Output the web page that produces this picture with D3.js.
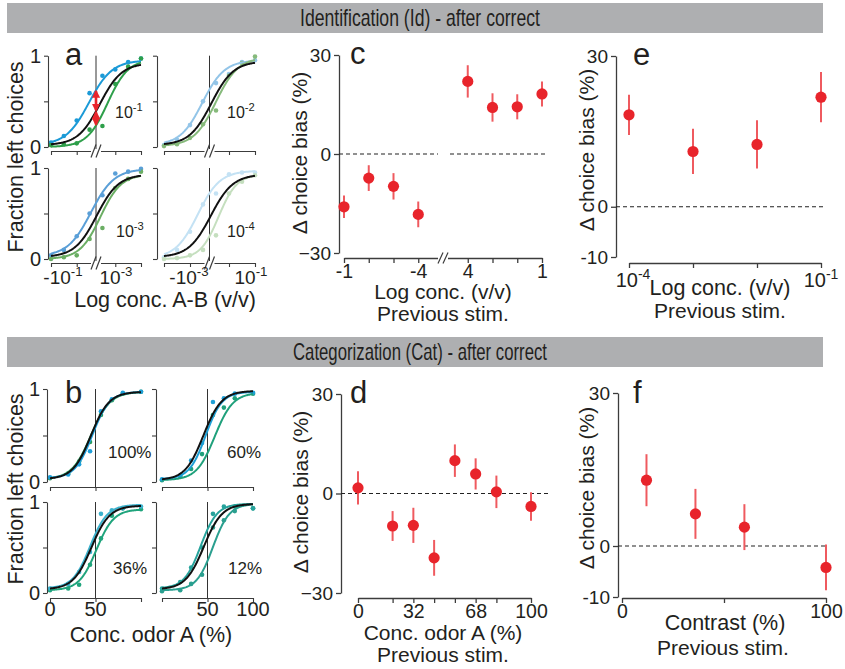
<!DOCTYPE html>
<html><head><meta charset="utf-8">
<script src="https://cdn.jsdelivr.net/npm/d3@7/dist/d3.min.js"></script>
<style>
body{margin:0;background:#fff;}
svg text{font-family:"Liberation Sans",Arial,Helvetica,sans-serif;fill:#231f20;}
</style></head><body>
<svg id="fig" width="845" height="669"></svg>
<script>
// ================= DATA =================
const bannerTitles = ["Identification (Id) - after correct", "Categorization (Cat) - after correct"];

// Panel a : identification psychometric curves; x = stimulus index
// (-10^-1, -10^-2, -10^-3, -10^-4 | 10^-4, 10^-3, 10^-2, 10^-1)
const idStim = [0,1,2,3,4,5,6,7];
const idPrevExp = ["-1","-2","-3","-4"];
const idBlueColors  = ["#1b9ad7","#93c5e8","#5a9fd7","#c4e2f4"];
const idGreenColors = ["#2e9f4a","#86ba7b","#6bae64","#c5dfbf"];
// fit params: [lower, upper, midpoint, width]
const idBlueFit  = [[0.02,0.95,2.95,0.9],[0.02,0.95,2.95,0.85],[0.03,0.99,3.1,0.9],[0.01,0.97,2.6,0.85]];
const idBlackFit = [[0.02,0.92,3.8,0.85],[0.02,0.94,3.65,0.85],[0.02,0.93,3.55,0.85],[0.02,0.93,3.6,0.85]];
const idGreenFit = [[0.00,0.96,4.4,0.8],[0.01,0.98,4.0,0.85],[0.00,0.93,3.85,0.8],[0.00,0.93,4.2,0.7]];
const idBluePts = [
  [0.05,0.12,0.29,0.59,0.78,0.85,0.93,0.97],
  [0.02,0.08,0.24,0.50,0.70,0.80,0.93,0.95],
  [0.04,0.10,0.25,0.50,0.70,0.94,0.96,0.99],
  [0.02,0.10,0.30,0.60,0.72,0.93,0.95,0.95]];
const idGreenPts = [
  [0.02,0.03,0.04,0.19,0.23,0.69,0.88,0.97],
  [0.01,0.03,0.10,0.25,0.40,0.78,0.92,0.99],
  [0.00,0.02,0.04,0.22,0.34,0.78,0.88,0.96],
  [0.00,0.01,0.04,0.10,0.26,0.72,0.85,0.92]];
const idTickIdx = [0,2,5,7];

// Panel b : categorization psychometric curves; x = conc. odor A (%)
const catStim = [0,20,32,44,56,68,80,100];
const catContrast = ["100%","60%","36%","12%"];
const catBlueColors  = ["#1e9fda","#1d9fd6","#3cb2cd","#27a39c"];
const catGreenColors = ["#2a9c5a","#1fa07b","#1fa47c","#2a9f8f"];
const catBlueFit  = [[0.04,0.97,46.5,9.5],[0.03,0.97,48,9],[0.05,0.97,44,9.5],[0.05,0.98,42.5,9]];
const catBlackFit = [[0.03,0.97,45,10],[0.02,0.98,45.5,10],[0.04,0.96,45.5,10],[0.04,0.98,46,10]];
const catGreenFit = [[0.03,0.97,45,10.5],[0.02,0.96,58,10],[0.03,0.92,51,9.5],[0.03,0.98,56,9]];
const catBluePts = [
  [0.05,0.08,0.19,0.33,0.76,0.89,0.96,0.97],
  [0.03,0.07,0.23,0.42,0.86,0.90,0.95,0.96],
  [0.05,0.10,0.23,0.45,0.87,0.91,0.93,0.95],
  [0.05,0.12,0.28,0.50,0.87,0.95,0.95,0.93]];
const catGreenPts = [
  [0.04,0.09,0.22,0.43,0.72,0.88,0.95,0.97],
  [0.02,0.06,0.14,0.30,0.72,0.80,0.90,0.95],
  [0.03,0.05,0.09,0.31,0.60,0.85,0.93,0.92],
  [0.02,0.03,0.10,0.20,0.72,0.80,0.90,0.93]];
const catTicks = [0,50,100];

// Panel c
const cCategories = ["-1","-2","-3","-4","4","3","2","1"];
const cTickLabels = ["-1","-4","4","1"];
const cBias = [-16.0,-7.3,-9.8,-18.3,22.0,14.1,14.3,18.2];
const cErr  = [3.4,3.9,4.0,3.9,4.9,4.3,3.8,3.8];

// Panel d
const dConc = [0,20,32,44,56,68,80,100];
const dTickLabels = [0,32,68,100];
const dBias = [1.7,-9.8,-9.6,-19.4,9.9,5.9,0.5,-3.9];
const dErr  = [5.0,4.5,5.3,5.4,4.9,4.7,4.9,4.3];

// Panel e
const eConcExp = ["-4","-3","-2","-1"];
const eBias = [18.3,11.0,12.4,21.8];
const eErr  = [4.0,4.5,4.8,5.0];

// Panel f
const fContrast = [12,36,60,100];
const fTicks = [0,50,100];
const fTickLabels = [0,100];
const fBias = [12.9,6.3,3.7,-4.2];
const fErr  = [5.1,4.9,4.5,4.5];

// ================= DRAWING =================
const svg = d3.select("#fig");
const TXT = "#231f20";
const AX = "#3c3c3c";
const RED = "#e8242b", RED_ERR = "#ef5a5f";

function logistic(p, x){ return p[0] + (p[1]-p[0])/(1+Math.exp(-(x-p[2])/p[3])); }

function supText(g, x, y, base, sup, size, anchor){
  const t = g.append("text").attr("x",x).attr("y",y).attr("text-anchor",anchor||"middle").style("font-size",size+"px");
  t.append("tspan").text(base);
  t.append("tspan").attr("dy",-0.42*size).style("font-size",(size*0.7)+"px").text(sup);
  return t;
}
function styleAxis(a, w){
  a.select(".domain").attr("stroke",AX).attr("stroke-width",w||1.2);
  a.selectAll(".tick line").attr("stroke",AX).attr("stroke-width",w||1.2);
  a.selectAll("text").attr("fill",TXT).style("font-size","19px").attr("font-family",null);
  a.attr("font-family",null);
}
function breakMarks(g, bx, by, h){
  g.append("rect").attr("x",bx-5).attr("y",by-2).attr("width",10).attr("height",4).attr("fill","#fff");
  [-2.5,2.5].forEach(o=>{
    g.append("line").attr("x1",bx+o-2.5).attr("y1",by+h/2).attr("x2",bx+o+2.5).attr("y2",by-h/2)
     .attr("stroke",AX).attr("stroke-width",1.2);
  });
}

// Banners
[[3,bannerTitles[0],240],[337,bannerTitles[1],254]].forEach(([y,t,len])=>{
  svg.append("rect").attr("x",7).attr("y",y).attr("width",816).attr("height",30).attr("fill","#aeafb1");
  svg.append("text").attr("x",420).attr("y",y+23).attr("text-anchor","middle")
    .attr("textLength",len).attr("lengthAdjust","spacingAndGlyphs")
    .style("font-family","'Liberation Sans Narrow','Arial Narrow','Liberation Sans',sans-serif")
    .style("font-size","24px").text(t);
});

// Generic psychometric subplot
function psy(o){
  const g = svg.append("g");
  const x = d3.scaleLinear().domain(o.xDomain).range([o.x0,o.x1]);
  const y = d3.scaleLinear().domain([0,1]).range([o.yb,o.yt]);
  g.append("line").attr("x1",x(o.vline)).attr("x2",x(o.vline)).attr("y1",y(1)).attr("y2",o.axisY)
    .attr("stroke","#333").attr("stroke-width",1);
  o.series.forEach(s=>{
    if(!s.pts) return;
    g.selectAll(null).data(s.pts.map((v,i)=>[o.xs[i],v])).join("circle")
      .attr("cx",d=>x(d[0])).attr("cy",d=>y(d[1])).attr("r",2.3).attr("fill",s.color);
  });
  const xs = d3.range(0,121).map(i=>o.xDomain[0]+(o.xDomain[1]-o.xDomain[0])*i/120);
  o.series.forEach(s=>{
    g.append("path").datum(xs).attr("fill","none").attr("stroke",s.color).attr("stroke-width",s.w||2)
      .attr("d",d3.line().x(d=>x(d)).y(d=>y(logistic(s.fit,d))));
  });
  const ya = g.append("g").attr("transform",`translate(${o.ax},0)`)
    .call(d3.axisLeft(y).tickValues([0,0.5,1]).tickSize(4).tickSizeOuter(0).tickPadding(3)
      .tickFormat(d=> o.yLabels ? (d===0.5?"":d3.format("d")(d)) : ""));
  styleAxis(ya,1.1);
  ya.selectAll("text").style("font-size","20px");
  const xa = g.append("g").attr("transform",`translate(0,${o.axisY})`)
    .call(d3.axisBottom(x).tickValues(o.ticks).tickSize(4).tickSizeOuter(0).tickFormat(""));
  styleAxis(xa,1.1);
  if(o.brk) breakMarks(g, x(o.vline), o.axisY, 13);
  return {g,x,y};
}

// ---- Panel a ----
const aLayout = [
  {ax:48, x0:51, x1:141, yt:55.7, yb:147, axisY:151},
  {ax:157,x0:164,x1:255, yt:55.7, yb:147, axisY:151},
  {ax:48, x0:51, x1:141, yt:168, yb:259, axisY:263},
  {ax:157,x0:164,x1:255, yt:168, yb:259, axisY:263}];
const aLabelPos = [[115,118],[227,118],[116,237],[227,237]];
const aSubs = aLayout.map((L,k)=>{
  const r = psy(Object.assign({}, L, {
    xDomain:[0,7], xs:idStim, vline:3.5, ticks:idTickIdx, yLabels:(k%2===0), brk:true,
    series:[
      {color:idBlueColors[k], fit:idBlueFit[k], pts:idBluePts[k]},
      {color:idGreenColors[k], fit:idGreenFit[k], pts:idGreenPts[k]},
      {color:"#111", fit:idBlackFit[k], w:2}]
  }));
  supText(r.g, aLabelPos[k][0], aLabelPos[k][1], "10", idPrevExp[k], 16, "start");
  return r;
});
// red arrows in first subplot
const defs = svg.append("defs");
defs.append("marker").attr("id","ah").attr("viewBox","0 0 10 10").attr("refX",8).attr("refY",5)
  .attr("markerWidth",3.2).attr("markerHeight",3.2).attr("orient","auto-start-reverse")
  .append("path").attr("d","M0,0L10,5L0,10z").attr("fill",RED);
{
  const s = aSubs[0];
  const bx = s.x(3.5);
  const vb = logistic(idBlueFit[0],3.5), vk = logistic(idBlackFit[0],3.5), vg = logistic(idGreenFit[0],3.5);
  [[vb,vk],[vk,vg]].forEach(([a,b])=>{
    s.g.append("line").attr("x1",bx).attr("x2",bx).attr("y1",s.y(a)+1).attr("y2",s.y(b)-1)
      .attr("stroke",RED).attr("stroke-width",2.6)
      .attr("marker-start","url(#ah)").attr("marker-end","url(#ah)");
  });
}
// panel a tick labels
supText(svg, 63, 284, "-10", "-1", 19, "middle");
supText(svg, 116, 284, "10", "-3", 19, "middle");
supText(svg, 189, 284, "-10", "-3", 19, "middle");
supText(svg, 251, 284, "10", "-1", 19, "middle");
svg.append("text").attr("x",165).attr("y",307).attr("text-anchor","middle").style("font-size","21.5px").text("Log conc. A-B (v/v)");

// ---- Panel b ----
const bLayout = [
  {ax:47, x0:50, x1:141, yt:389, yb:482, axisY:487},
  {ax:156,x0:162,x1:253, yt:389, yb:482, axisY:487},
  {ax:47, x0:50, x1:141, yt:502, yb:593, axisY:598},
  {ax:156,x0:162,x1:253, yt:502, yb:593, axisY:598}];
const bLabelPos = [[108,458],[227,458],[113,574],[228,574]];
const bSubs = bLayout.map((L,k)=>{
  const r = psy(Object.assign({}, L, {
    xDomain:[0,100], xs:catStim, vline:50, ticks:catTicks, yLabels:(k%2===0), brk:false,
    series:[
      {color:catGreenColors[k], fit:catGreenFit[k], pts:catGreenPts[k]},
      {color:catBlueColors[k], fit:catBlueFit[k], pts:catBluePts[k]},
      {color:"#111", fit:catBlackFit[k], w:2}]
  }));
  r.g.append("text").attr("x",bLabelPos[k][0]).attr("y",bLabelPos[k][1]).style("font-size","17px").text(catContrast[k]);
  return r;
});
[[bSubs[2],[0,50]],[bSubs[3],[50,100]]].forEach(([s,vals])=>{
  vals.forEach(v=> svg.append("text").attr("x",s.x(v)).attr("y",616).attr("text-anchor","middle").style("font-size","20px").text(v));
});
svg.append("text").attr("x",151).attr("y",642).attr("text-anchor","middle").style("font-size","21.5px").text("Conc. odor A (%)");

// y labels a,b
[[16,157],[16,489]].forEach(([x,y])=>{
  svg.append("text").attr("transform",`translate(${x},${y}) rotate(-90)`).attr("text-anchor","middle")
    .attr("dominant-baseline","central").style("font-size","21.5px").text("Fraction left choices");
});

// ---- Bias panels ----
function biasPanel(o){
  const g = svg.append("g");
  const x = o.x, y = o.y;
  const ya = g.append("g").attr("transform",`translate(${o.ax},0)`)
    .call(d3.axisLeft(y).tickValues(o.yTicks).tickSize(5).tickSizeOuter(0).tickPadding(3).tickFormat(o.yFmt));
  styleAxis(ya,1.3);
  const xa = g.append("g").attr("transform",`translate(0,${o.axisY})`)
    .call(d3.axisBottom(x).tickValues(o.xTicks).tickSize(5).tickSizeOuter(0).tickPadding(1).tickFormat(o.xFmt));
  styleAxis(xa,1.3);
  xa.selectAll("text").style("font-size","19.5px");
  o.dash.forEach(([a,b])=>{
    g.append("line").attr("x1",a).attr("x2",b).attr("y1",y(0)).attr("y2",y(0))
      .attr("stroke","#222").attr("stroke-width",1.2).attr("stroke-dasharray","4,3");
  });
  const data = o.xs.map((v,i)=>({x:x(v), v:o.vals[i], e:o.errs[i]}));
  g.selectAll(null).data(data).join("line").attr("x1",d=>d.x).attr("x2",d=>d.x)
    .attr("y1",d=>y(d.v-d.e)).attr("y2",d=>y(d.v+d.e)).attr("stroke",RED_ERR).attr("stroke-width",2);
  g.selectAll(null).data(data).join("circle").attr("cx",d=>d.x).attr("cy",d=>y(d.v)).attr("r",5.6).attr("fill",RED);
  svg.append("text").attr("transform",`translate(${o.ylx},${o.yly}) rotate(-90)`).attr("text-anchor","middle")
    .attr("dominant-baseline","central").style("font-size","21px").text("Δ choice bias (%)");
  return {g,x,y,xa};
}
const minusFmt = d => d<0 ? "−"+Math.abs(d) : String(d);
const hyphenFmt = d => d<0 ? "-"+Math.abs(d) : String(d);

// c
const cSlots = [...cCategories.slice(0,4),"gap",...cCategories.slice(4)];
const cx = d3.scalePoint().domain(cSlots).range([344,542]);
const cy = d3.scaleLinear().domain([-30,30]).range([253,55]);
const cP = biasPanel({x:cx, y:cy, ax:339, axisY:258, yTicks:[30,0,-30], yFmt:minusFmt,
  xTicks:cCategories, xFmt:d=> cTickLabels.includes(d)? d : "",
  dash:[[339,438],[450,547]], xs:cCategories, vals:cBias, errs:cErr, ylx:299, yly:153});
breakMarks(cP.g, cx("gap"), 258, 11);
svg.append("text").attr("x",443).attr("y",299).attr("text-anchor","middle").style("font-size","21px").text("Log conc. (v/v)");
svg.append("text").attr("x",443).attr("y",321).attr("text-anchor","middle").style("font-size","21px").text("Previous stim.");

// d
const dx = d3.scaleLinear().domain([0,100]).range([358,531]);
const dy = d3.scaleLinear().domain([-30,30]).range([593,394]);
biasPanel({x:dx, y:dy, ax:341, axisY:598, yTicks:[30,0,-30], yFmt:minusFmt,
  xTicks:dConc, xFmt:d=> dTickLabels.includes(d)? String(d) : "",
  dash:[[341,548]], xs:dConc, vals:dBias, errs:dErr, ylx:300, yly:492});
svg.append("text").attr("x",443).attr("y",640).attr("text-anchor","middle").style("font-size","21px").text("Conc. odor A (%)");
svg.append("text").attr("x",443).attr("y",662).attr("text-anchor","middle").style("font-size","21px").text("Previous stim.");

// e
const ex = d3.scalePoint().domain(eConcExp).range([629,821]);
const ey = d3.scaleLinear().domain([-10,30]).range([257,56]);
biasPanel({x:ex, y:ey, ax:616, axisY:263, yTicks:[30,0,-10], yFmt:hyphenFmt,
  xTicks:eConcExp, xFmt:()=> "",
  dash:[[616,823]], xs:eConcExp, vals:eBias, errs:eErr, ylx:586, yly:150});
supText(svg, ex(eConcExp[0])+4, 287, "10", eConcExp[0], 20, "middle");
supText(svg, ex(eConcExp[3]), 287, "10", eConcExp[3], 20, "middle");
svg.append("text").attr("x",720).attr("y",295).attr("text-anchor","middle").style("font-size","21.5px").text("Log conc. (v/v)");
svg.append("text").attr("x",720).attr("y",318).attr("text-anchor","middle").style("font-size","21px").text("Previous stim.");

// f
const fx = d3.scaleLinear().domain([0,100]).range([622,826]);
const fy = d3.scaleLinear().domain([-10,30]).range([597,393]);
biasPanel({x:fx, y:fy, ax:618, axisY:598, yTicks:[30,0,-10], yFmt:hyphenFmt,
  xTicks:fTicks, xFmt:d=> fTickLabels.includes(d)? String(d) : "",
  dash:[[618,826]], xs:fContrast, vals:fBias, errs:fErr, ylx:586, yly:488});
svg.append("text").attr("x",725).attr("y",630).attr("text-anchor","middle").style("font-size","21.5px").text("Contrast (%)");
svg.append("text").attr("x",723).attr("y",655).attr("text-anchor","middle").style("font-size","21px").text("Previous stim.");

// panel letters
[["a",65,65],["b",65,403],["c",350,64],["d",350,403],["e",633,65],["f",633,403]].forEach(([t,x,y])=>{
  svg.append("text").attr("x",x).attr("y",y).style("font-size","31px").text(t);
});
</script>
</body></html>
